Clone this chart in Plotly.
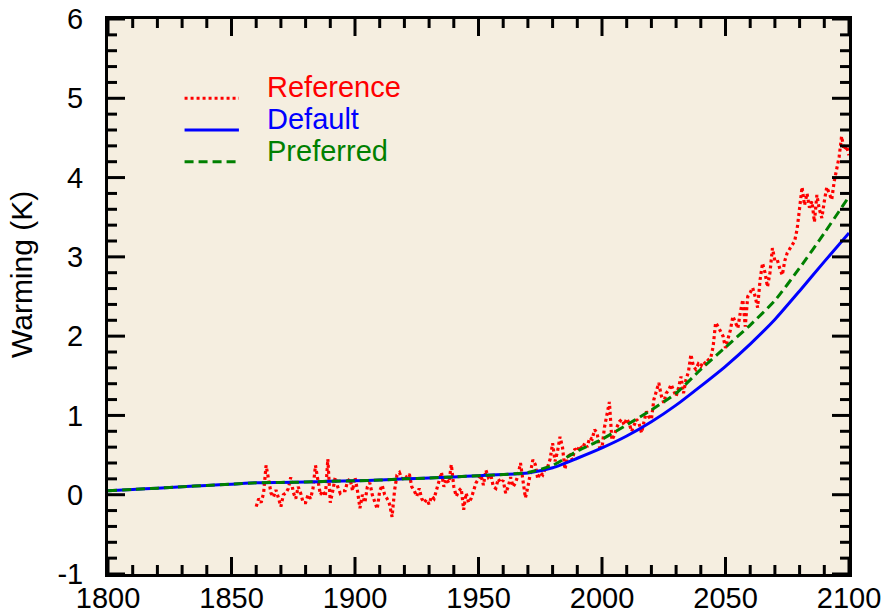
import plotly.graph_objects as go

# ---------------- data ----------------
ref_years = list(range(1860, 2101))
ref_values = [
    # 1860s
    -0.15, -0.05, -0.10, 0.02, 0.37, 0.20, 0.02, -0.03, 0.06, -0.04,
    # 1870s
    -0.15, 0.00, 0.02, 0.08, 0.22, 0.03, -0.05, 0.10, 0.02, -0.10,
    # 1880s
    -0.10, 0.00, -0.05, 0.08, 0.37, 0.18, 0.00, 0.05, -0.02, 0.45,
    # 1890s
    -0.10, 0.05, 0.22, 0.10, 0.02, 0.05, 0.05, 0.17, 0.20, 0.05,
    # 1900s
    0.22, 0.05, -0.17, 0.00, -0.10, 0.10, 0.15, 0.00, -0.08, -0.18,
    # 1910s
    0.05, 0.12, 0.00, -0.05, -0.12, -0.28, 0.05, 0.25, 0.28, 0.20,
    # 1920s
    0.24, 0.22, 0.26, 0.10, 0.05, -0.02, 0.08, -0.05, -0.10, -0.06,
    # 1930s
    -0.12, -0.02, -0.05, 0.05, 0.15, 0.28, 0.10, 0.20, 0.15, 0.38,
    # 1940s
    0.10, -0.02, 0.05, 0.08, -0.19, 0.02, -0.10, -0.05, 0.05, 0.15,
    # 1950s
    0.20, 0.25, 0.12, 0.31, 0.22, 0.25, 0.10, 0.08, 0.20, 0.15,
    # 1960s
    0.18, 0.02, 0.10, 0.22, 0.10, 0.15, 0.25, 0.40, 0.18, -0.04,
    # 1970s
    0.10, 0.30, 0.44, 0.38, 0.20, 0.28, 0.25, 0.33, 0.35, 0.45,
    # 1980s
    0.65, 0.42, 0.55, 0.73, 0.60, 0.32, 0.48, 0.50, 0.44, 0.58,
    # 1990s
    0.55, 0.62, 0.58, 0.65, 0.60, 0.72, 0.70, 0.82, 0.78, 0.60,
    # 2000s
    0.59, 0.85, 1.00, 1.17, 0.69, 0.75, 0.85, 0.92, 0.95, 0.88,
    # 2010s
    0.96, 0.90, 0.80, 0.88, 0.95, 0.90, 0.78, 0.92, 1.05, 0.98,
    # 2020s
    0.95, 1.20, 1.30, 1.41, 1.25, 1.16, 1.28, 1.32, 1.39, 1.30,
    # 2030s
    1.24, 1.35, 1.49, 1.28, 1.45, 1.55, 1.77, 1.62, 1.58, 1.65,
    # 2040s
    1.62, 1.68, 1.65, 1.70, 1.72, 1.87, 2.17, 2.12, 2.05, 2.00,
    # 2050s
    1.85, 1.95, 2.08, 2.25, 2.18, 2.10, 2.30, 2.46, 2.12, 2.50,
    # 2060s
    2.55, 2.61, 2.50, 2.36, 2.71, 2.92, 2.80, 2.62, 2.80, 3.11,
    # 2070s
    2.95, 2.96, 2.85, 2.77, 2.95, 3.05, 3.10, 3.15, 3.20, 3.35,
    # 2080s
    3.60, 3.88, 3.65, 3.80, 3.62, 3.70, 3.44, 3.78, 3.60, 3.49,
    # 2090s
    3.70, 3.88, 3.80, 3.72, 3.95, 4.10, 4.26, 4.52, 4.35, 4.40,
    # 2100
    4.28,
]

model_years = [1800, 1810, 1820, 1830, 1840, 1850, 1860, 1870, 1880, 1890,
               1900, 1910, 1920, 1930, 1940, 1950, 1960, 1970, 1980, 1990,
               2000, 2010, 2020, 2030, 2040, 2050, 2060, 2070, 2080, 2090, 2100]
default_values = [0.05, 0.067, 0.083, 0.10, 0.117, 0.133, 0.15, 0.155, 0.16, 0.17,
                  0.175, 0.185, 0.20, 0.21, 0.225, 0.24, 0.255, 0.275, 0.34, 0.46,
                  0.59, 0.74, 0.92, 1.13, 1.37, 1.62, 1.90, 2.21, 2.57, 2.94, 3.30]
preferred_values = [0.05, 0.067, 0.083, 0.10, 0.117, 0.133, 0.15, 0.155, 0.16, 0.17,
                    0.175, 0.185, 0.20, 0.21, 0.225, 0.24, 0.255, 0.28, 0.37, 0.55,
                    0.70, 0.88, 1.07, 1.28, 1.58, 1.86, 2.14, 2.45, 2.86, 3.30, 3.76]

x_major_ticks = [1800, 1850, 1900, 1950, 2000, 2050, 2100]
x_minor_ticks = [1810, 1820, 1830, 1840, 1860, 1870, 1880, 1890, 1910, 1920, 1930, 1940,
                 1960, 1970, 1980, 1990, 2010, 2020, 2030, 2040, 2060, 2070, 2080, 2090]
y_major_ticks = [-1, 0, 1, 2, 3, 4, 5, 6]
y_major_labels = ["-1", "0", "1", "2", "3", "4", "5", "6"]
y_minor_ticks = [-0.8, -0.6, -0.4, -0.2, 0.2, 0.4, 0.6, 0.8, 1.2, 1.4, 1.6, 1.8,
                 2.2, 2.4, 2.6, 2.8, 3.2, 3.4, 3.6, 3.8, 4.2, 4.4, 4.6, 4.8,
                 5.2, 5.4, 5.6, 5.8]

legend_labels = ["Reference", "Default", "Preferred"]
legend_colors = ["#ff0000", "#0000ff", "#008000"]
y_title = "Warming (K)"

FONT = "Liberation Sans, Arial, sans-serif"
XR = [1800, 2100]
YR = [-1, 6]
MAJOR_LEN = 17
MINOR_LEN = 9

fig = go.Figure()
fig.add_trace(go.Scatter(x=ref_years, y=ref_values, mode="lines", name="Reference",
                         line=dict(color="#ff0000", width=3.2, dash="3px,3px")))
fig.add_trace(go.Scatter(x=model_years, y=default_values, mode="lines", name="Default",
                         line=dict(color="#0000ff", width=3, shape="spline", smoothing=0.6)))
fig.add_trace(go.Scatter(x=model_years, y=preferred_values, mode="lines", name="Preferred",
                         line=dict(color="#008000", width=3, dash="9px,5px",
                                   shape="spline", smoothing=0.6)))

# manual legend (samples + labels in data coordinates)
legend_y = [5.0, 4.6, 4.2]
legend_dash = ["3px,3px", "solid", "9px,5px"]
for lab, col, ly, dsh in zip(legend_labels, legend_colors, legend_y, legend_dash):
    fig.add_shape(type="line", xref="x", yref="y", x0=1831, x1=1853, y0=ly, y1=ly,
                  line=dict(color=col, width=3, dash=dsh))
    fig.add_annotation(x=1863.5, y=ly, xref="x", yref="y", text=lab, showarrow=False,
                       xanchor="left", yanchor="bottom", yshift=-7,
                       font=dict(family=FONT, size=29, color=col))

# inward tick marks on all four sides, positioned through the axis scales
tick_line = dict(color="black", width=3)
for vals, ln in ((x_major_ticks, MAJOR_LEN), (x_minor_ticks, MINOR_LEN)):
    for v in vals:
        fig.add_shape(type="line", xref="x", yref="paper", x0=v, x1=v,
                      ysizemode="pixel", yanchor=0, y0=0, y1=ln, line=tick_line)
        fig.add_shape(type="line", xref="x", yref="paper", x0=v, x1=v,
                      ysizemode="pixel", yanchor=1, y0=0, y1=-ln, line=tick_line)
for vals, ln in ((y_major_ticks, MAJOR_LEN), (y_minor_ticks, MINOR_LEN)):
    for v in vals:
        fig.add_shape(type="line", xref="paper", yref="y", y0=v, y1=v,
                      xsizemode="pixel", xanchor=0, x0=0, x1=ln, line=tick_line)
        fig.add_shape(type="line", xref="paper", yref="y", y0=v, y1=v,
                      xsizemode="pixel", xanchor=1, x0=0, x1=-ln, line=tick_line)

# y-axis title
fig.add_annotation(x=0, y=0.5, xref="paper", yref="paper", text=y_title,
                   showarrow=False, textangle=-90, xanchor="right", yanchor="middle",
                   xshift=-68, yshift=22,
                   font=dict(family=FONT, size=30, color="black"))

tickfont = dict(family=FONT, size=29, color="black")

fig.update_layout(
    width=888, height=616, margin=dict(l=108, r=39, t=19, b=42),
    paper_bgcolor="white", plot_bgcolor="#F5EEE0", showlegend=False,
    xaxis=dict(range=XR, tickmode="array", tickvals=x_major_ticks, ticks="",
               showline=True, linecolor="black", linewidth=3, mirror=True,
               showgrid=False, zeroline=False, tickfont=tickfont,
               ticklabelstandoff=-4, automargin=False),
    yaxis=dict(range=YR, tickmode="array", tickvals=y_major_ticks, ticktext=y_major_labels,
               ticks="", showline=True, linecolor="black", linewidth=3, mirror=True,
               showgrid=False, zeroline=False, tickfont=tickfont,
               ticklabelstandoff=16, automargin=False),
)

fig.write_html("out.html")
